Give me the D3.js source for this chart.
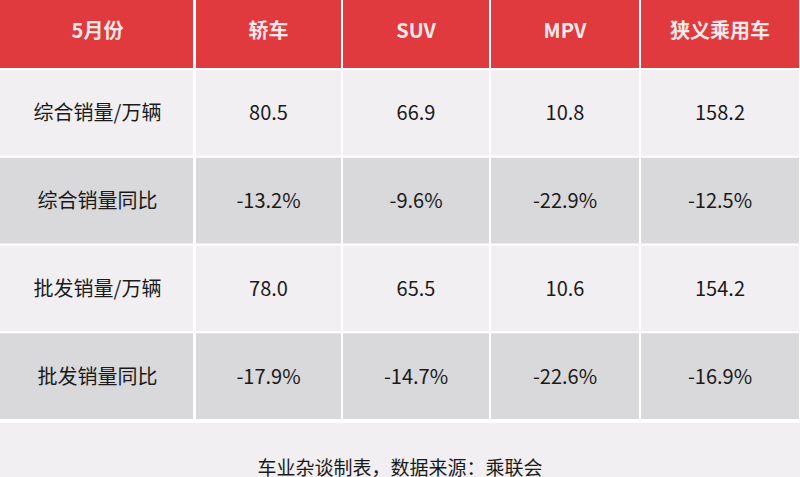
<!DOCTYPE html>
<html><head><meta charset="utf-8">
<script src="https://cdn.jsdelivr.net/npm/d3@7"></script>
<style>body{margin:0;background:#fff}</style>
</head><body><svg id="c" width="800" height="477"></svg>
<script>
const headers = ['5月份', '轿车', 'SUV', 'MPV', '狭义乘用车'];
const rowLabels = ['综合销量/万辆', '综合销量同比', '批发销量/万辆', '批发销量同比'];
const sedan = ['80.5', '-13.2%', '78.0', '-17.9%'];
const suv = ['66.9', '-9.6%', '65.5', '-14.7%'];
const mpv = ['10.8', '-22.9%', '10.6', '-22.6%'];
const total = ['158.2', '-12.5%', '154.2', '-16.9%'];
const footnote = '车业杂谈制表，数据来源：乘联会';

const svg = d3.select('#c');
const font = '"Microsoft YaHei","Noto Sans CJK SC",sans-serif';
const colEdges = [0, 195, 342, 490, 640, 800];
const x = i => colEdges[i], w = i => colEdges[i + 1] - colEdges[i];
const y = d3.scaleLinear().domain([0, 4]).range([70, 421]);
const gap = 2;

svg.append('rect').attr('width', 800).attr('height', 477).attr('fill', '#fff');

// header
headers.forEach((h, i) => {
  svg.append('rect').attr('x', x(i) + (i ? gap / 2 : 0)).attr('y', 0)
    .attr('width', w(i) - gap).attr('height', 68).attr('fill', '#e0393e');
  svg.append('text').attr('x', x(i) + w(i) / 2).attr('y', 29)
    .attr('text-anchor', 'middle').attr('dominant-baseline', 'central')
    .attr('font-family', font).attr('font-weight', 'bold').attr('font-size', 20)
    .attr('fill', '#fbe9e9').text(h);
});

const rows = rowLabels.map((l, r) => [l, sedan[r], suv[r], mpv[r], total[r]]);
rows.forEach((row, r) => {
  const fill = r % 2 ? '#d9d8da' : '#f1eff2';
  row.forEach((v, i) => {
    svg.append('rect').attr('x', x(i) + (i ? gap / 2 : 0)).attr('y', y(r))
      .attr('width', w(i) - gap).attr('height', y(r + 1) - y(r) - gap).attr('fill', fill);
    svg.append('text').attr('x', x(i) + w(i) / 2).attr('y', (y(r) + y(r + 1)) / 2 - 2)
      .attr('text-anchor', 'middle').attr('dominant-baseline', 'central')
      .attr('font-family', font).attr('font-size', 20).attr('fill', '#1a1a1a').text(v);
  });
});

svg.append('rect').attr('x', 0).attr('y', 423).attr('width', 800).attr('height', 54).attr('fill', '#f1eff2');
svg.append('text').attr('x', 400).attr('y', 466).attr('text-anchor', 'middle')
  .attr('dominant-baseline', 'central').attr('font-family', font).attr('font-size', 19)
  .attr('fill', '#1a1a1a').text(footnote);
</script></body></html>
